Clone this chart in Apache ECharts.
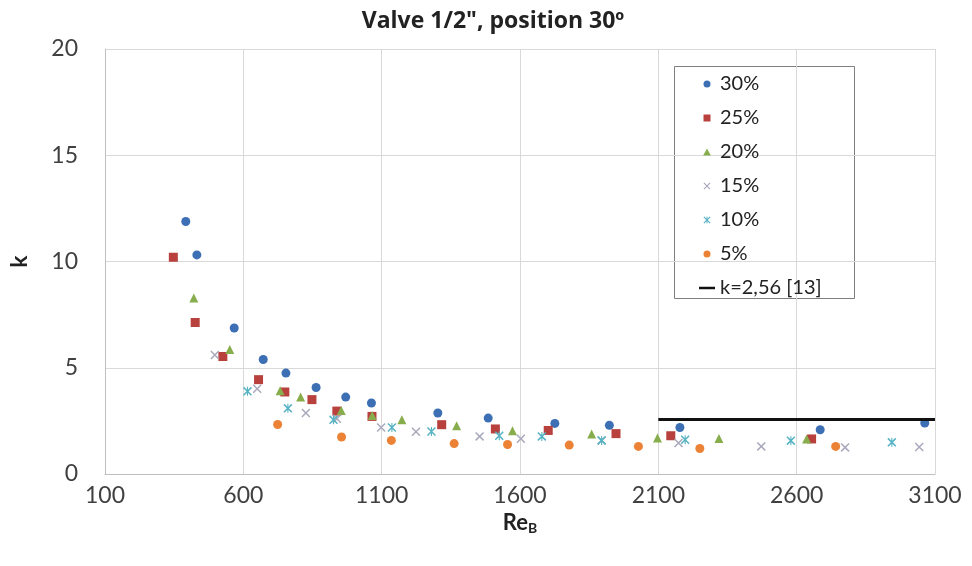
<!DOCTYPE html>
<html>
<head>
<meta charset="utf-8">
<script src="https://cdn.jsdelivr.net/npm/echarts@6/dist/echarts.min.js"></script>
<style>html,body{margin:0;padding:0;background:#fff}#c{width:972px;height:566px}</style>
</head>
<body>
<div id="c"></div>
<script>
const seriesNames = ['30%', '25%', '20%', '15%', '10%', '5%', 'k=2,56 [13]'];
const s30 = [[392,11.88],[432,10.31],[567,6.87],[672,5.39],[754,4.75],[863,4.07],[970,3.62],[1063,3.34],[1303,2.87],[1485,2.63],[1726,2.38],[1923,2.29],[2178,2.19],[2685,2.08],[3063,2.4]];
const s25 = [[347,10.2],[426,7.13],[526,5.53],[655,4.44],[750,3.86],[848,3.5],[938,2.96],[1065,2.71],[1317,2.32],[1511,2.12],[1702,2.05],[1947,1.9],[2145,1.8],[2654,1.65]];
const s20 = [[421,8.28],[551,5.86],[733,3.92],[807,3.62],[954,2.99],[1066,2.75],[1173,2.55],[1371,2.27],[1573,2.04],[1859,1.88],[2097,1.69],[2319,1.67],[2636,1.65]];
const s15 = [[497,5.6],[650,4.01],[826,2.87],[938,2.6],[1098,2.19],[1224,1.99],[1454,1.77],[1603,1.66],[1895,1.58],[2173,1.46],[2472,1.3],[2775,1.25],[3043,1.27]];
const s10 = [[615,3.89],[761,3.09],[926,2.55],[1137,2.19],[1280,2.0],[1525,1.8],[1679,1.77],[1895,1.58],[2197,1.61],[2579,1.57],[2944,1.49]];
const s5 = [[724,2.33],[955,1.74],[1135,1.58],[1362,1.43],[1555,1.39],[1778,1.36],[2028,1.3],[2250,1.2],[2741,1.3]];
const refLine = [[2100,2.56],[3100,2.56]];

const FONT = 'Lato';
const X_PATH = 'path://M0,1.2L1.2,0L10,8.8L8.8,10Z M8.8,0L10,1.2L1.2,10L0,8.8Z';
const STAR_PATH = 'path://M0,1.2L1.2,0L10,8.8L8.8,10Z M8.8,0L10,1.2L1.2,10L0,8.8Z M4.4,0L5.6,0L5.6,10L4.4,10Z';
const SQ_PATH = 'path://M0,0L10,0L10,10L0,10Z';
const TRI_PATH = 'path://M5,0L10,9L0,9Z';
const LINE_PATH = 'path://M0,0L32,0L32,5L0,5Z';

const chart = echarts.init(document.getElementById('c'), null, {renderer: 'canvas'});
function sc(name, data, symbol, size, color) {
  return {name, type: 'scatter', data, symbol, symbolSize: size,
    itemStyle: {color, opacity: 1}, emphasis: {disabled: true}};
}
chart.setOption({
  animation: false,
  backgroundColor: '#fff',
  title: {text: 'Valve 1/2", position 30º', left: 488, textAlign: 'center', top: 5,
    textStyle: {fontFamily: 'Open Sans', fontWeight: 'bold', fontSize: 23, color: '#222'}},
  grid: {left: 102, right: 37, top: 49, bottom: 92, containLabel: false},
  xAxis: {type: 'value', min: 100, max: 3100, interval: 500,
    name: '{a|Re}{b|B}', nameLocation: 'middle', nameGap: 34,
    nameTextStyle: {rich: {a: {fontFamily: FONT, fontWeight: 'bold', fontSize: 22, color: '#222'},
      b: {fontFamily: FONT, fontWeight: 'bold', fontSize: 14, color: '#222', padding: [12,0,0,0]}}},
    axisLine: {show: true, lineStyle: {color: '#bfbfbf'}},
    axisTick: {show: false},
    axisLabel: {fontFamily: FONT, fontSize: 23, color: '#404040', margin: 10,
      formatter: v => String(v)},
    splitLine: {show: true, lineStyle: {color: '#d9d9d9'}}},
  yAxis: {type: 'value', min: 0, max: 20, interval: 5,
    name: 'k', nameLocation: 'middle', nameGap: 74, nameRotate: 90,
    nameTextStyle: {fontFamily: FONT, fontWeight: 'bold', fontSize: 23, color: '#222'},
    axisLine: {show: true, lineStyle: {color: '#bfbfbf'}},
    axisTick: {show: false},
    axisLabel: {fontFamily: FONT, fontSize: 23, color: '#404040', margin: 27},
    splitLine: {show: true, lineStyle: {color: '#d9d9d9'}}},
  legend: {orient: 'vertical', left: 699, top: 74, padding: 0, itemGap: 14,
    itemWidth: 16, itemHeight: 7, symbolKeepAspect: true,
    textStyle: {fontFamily: FONT, fontSize: 20, color: '#222', lineHeight: 20},
    data: [
      {name: '30%', icon: 'circle'},
      {name: '25%', icon: SQ_PATH},
      {name: '20%', icon: TRI_PATH},
      {name: '15%', icon: X_PATH},
      {name: '10%', icon: STAR_PATH},
      {name: '5%', icon: 'circle'},
      {name: 'k=2,56 [13]', icon: LINE_PATH}
    ]},
  graphic: [{type: 'rect', shape: {x: 674.5, y: 66.5, width: 180, height: 232},
    style: {fill: 'none', stroke: '#7f7f7f', lineWidth: 1}, z: 0}],
  series: [
    sc(seriesNames[0], s30, 'circle', 9, '#3c6fb4'),
    sc(seriesNames[1], s25, SQ_PATH, 9, '#b8403d'),
    sc(seriesNames[2], s20, TRI_PATH, 9, '#88ad4c'),
    sc(seriesNames[3], s15, X_PATH, 9, '#a9a9bd'),
    sc(seriesNames[4], s10, STAR_PATH, 9, '#56b3c4'),
    sc(seriesNames[5], s5, 'circle', 9, '#ec8236'),
    {name: seriesNames[6], type: 'line', data: refLine, symbol: 'none',
      lineStyle: {color: '#111', width: 3}, itemStyle: {color: '#111'}, emphasis: {disabled: true}}
  ]
});
</script>
</body>
</html>
